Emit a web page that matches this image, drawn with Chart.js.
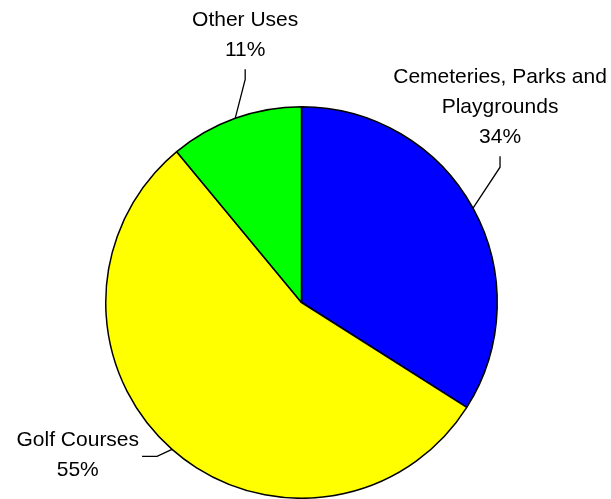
<!DOCTYPE html>
<html>
<head>
<meta charset="utf-8">
<script src="https://cdn.jsdelivr.net/npm/chart.js@4/dist/chart.umd.min.js"></script>
<style>
  html, body { margin: 0; padding: 0; background: #fff; }
  #wrap { width: 611px; height: 499px; position: relative; }
</style>
</head>
<body>
<div id="wrap"><canvas id="pie"></canvas></div>
<script>
// ============================
// DATA
// ============================

const categories = ["Cemeteries, Parks and Playgrounds", "Golf Courses", "Other Uses"];
const labelLines = [["Cemeteries, Parks and", "Playgrounds"], ["Golf Courses"], ["Other Uses"]];
const shares = [34, 55, 11];
const sliceColors = ["#0000ff", "#ffff00", "#00ff00"];

// leader line layout per slice: elbow offset from the rim, then end point
const leaders = [
  { elbow: [27, -41], end: [0, -11], side: "top" },
  { elbow: [-15, 7], end: [-15, 0], side: "left" },
  { elbow: [10, -39], end: [0, -10], side: "top" }
];

const FONT = '21px "Liberation Sans", Arial, sans-serif';
const LINE_H = 30;

// ============================
// PLUGIN: LEADER LABELS
// ============================

const leaderLabels = {
  id: "leaderLabels",
  afterDatasetsDraw(chart) {
    const ctx = chart.ctx;
    const meta = chart.getDatasetMeta(0);

    ctx.save();
    ctx.font = FONT;
    ctx.fillStyle = "#000";
    ctx.strokeStyle = "#000";
    ctx.lineWidth = 1.3;

    meta.data.forEach((arc, i) => {
      const mid = (arc.startAngle + arc.endAngle) / 2;
      const rx = arc.x + Math.cos(mid) * arc.outerRadius;
      const ry = arc.y + Math.sin(mid) * arc.outerRadius;
      const cfg = leaders[i];
      const ex = rx + cfg.elbow[0], ey = ry + cfg.elbow[1];
      const tx = ex + cfg.end[0], ty = ey + cfg.end[1];

      ctx.beginPath();
      ctx.moveTo(rx, ry);
      ctx.lineTo(ex, ey);
      ctx.lineTo(tx, ty);
      ctx.stroke();

      const lines = labelLines[i].concat([shares[i] + "%"]);
      ctx.textAlign = "center";
      ctx.textBaseline = "alphabetic";

      if (cfg.side === "top") {
        const lastBase = ty - 13;
        lines.forEach((t, k) => {
          ctx.fillText(t, tx, lastBase - (lines.length - 1 - k) * LINE_H);
        });
      } else {
        const w = Math.max(...lines.map(t => ctx.measureText(t).width));
        const cx = tx - 3 - w / 2;
        const firstBase = ty - 10;
        lines.forEach((t, k) => {
          ctx.fillText(t, cx, firstBase + k * LINE_H);
        });
      }
    });

    ctx.restore();
  }
};

// ============================
// CHART
// ============================

new Chart(document.getElementById("pie"), {
  type: "pie",
  data: {
    labels: categories,
    datasets: [{
      data: shares,
      backgroundColor: sliceColors,
      borderColor: "#000",
      borderWidth: 1.5
    }]
  },
  options: {
    responsive: true,
    maintainAspectRatio: false,
    animation: false,
    layout: {
      padding: { top: 106, left: 103, right: 111, bottom: -2 }
    },
    plugins: {
      legend: { display: false },
      tooltip: { enabled: false }
    }
  },
  plugins: [leaderLabels]
});
</script>
</body>
</html>
